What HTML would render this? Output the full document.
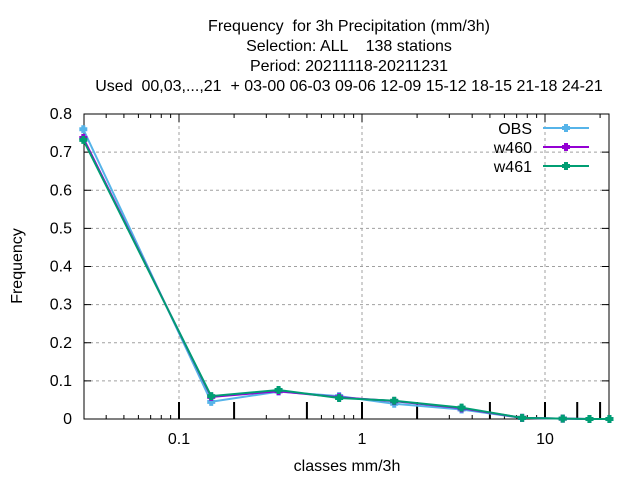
<!DOCTYPE html>
<html><head><meta charset="utf-8"><style>
body{margin:0;background:#fff}
svg{font-family:"Liberation Sans",sans-serif;font-size:16px}
</style></head><body>
<svg id="c" width="640" height="480">
<g text-anchor="middle" fill="#000" xml:space="preserve">
<text x="349" y="31" xml:space="preserve">Frequency  for 3h Precipitation (mm/3h)</text>
<text x="349" y="51" xml:space="preserve">Selection: ALL    138 stations</text>
<text x="349" y="71">Period: 20211118-20211231</text>
<text x="349" y="91" xml:space="preserve">Used  00,03,...,21  + 03-00 06-03 09-06 12-09 15-12 18-15 21-18 24-21</text>
</g>
<text x="22" y="266" text-anchor="middle" transform="rotate(-90 22 266)">Frequency</text>
<text x="347" y="471" text-anchor="middle">classes mm/3h</text>
<g id="grid"></g><g id="axes"></g><g id="series"></g><g id="legend"></g>
</svg>
<script>
const xValues=[0.03,0.15,0.35,0.75,1.5,3.5,7.5,12.5,17.5,22.5];
const obs=[0.76,0.045,0.072,0.06,0.04,0.025,0.003,0.001,0,0];
const w460=[0.737,0.058,0.073,0.057,0.047,0.028,0.003,0.001,0,0];
const w461=[0.732,0.06,0.076,0.055,0.048,0.03,0.003,0.001,0,0];
const seriesNames=["OBS","w460","w461"];
const yTicks=[0,0.1,0.2,0.3,0.4,0.5,0.6,0.7,0.8];
const yTickLabels=["0","0.1","0.2","0.3","0.4","0.5","0.6","0.7","0.8"];
const xMajor=[0.1,1,10];
const xMajorLabels=["0.1","1","10"];
const impulseX=[0.1,0.2,0.5,1,2,5,10,15,20];
const L=84,R=609,T=114,B=419;
const X=v=>179+(Math.log10(v)+1)*183;
const Y=v=>B-(v/0.8)*(B-T);
const NS="http://www.w3.org/2000/svg";
function mk(t,a,p){const e=document.createElementNS(NS,t);for(const k in a)e.setAttribute(k,a[k]);p.appendChild(e);return e;}
const grid=document.getElementById('grid'),axes=document.getElementById('axes'),ser=document.getElementById('series'),leg=document.getElementById('legend');
yTicks.forEach((v,i)=>{const y=Y(v);
 if(i>0&&i<yTicks.length-1){const g=mk('line',{x1:L,x2:R,y1:y,y2:y,stroke:'#a0a0a0','stroke-dasharray':'3,3'},grid);
 
 }
 mk('line',{x1:L,x2:L+7,y1:y,y2:y,stroke:'#000'},axes);mk('line',{x1:R,x2:R-7,y1:y,y2:y,stroke:'#000'},axes);
 const t=mk('text',{x:L-12,y:y+5,'text-anchor':'end'},axes);t.textContent=yTickLabels[i];
 
 });
xMajor.forEach((v,i)=>{const x=X(v);
 const g=mk('line',{x1:x,x2:x,y1:T,y2:B,stroke:'#a0a0a0','stroke-dasharray':'3,3'},grid);
 
 
 const t=mk('text',{x:x,y:B+25,'text-anchor':'middle'},axes);t.textContent=xMajorLabels[i];
 
 });
for(let d=0.01;d<=10;d*=10){for(let m=2;m<=9;m++){const v=d*m;const x=X(v);if(x<=L||x>=R)continue;
 mk('line',{x1:x,x2:x,y1:B,y2:B-4,stroke:'#000'},axes);mk('line',{x1:x,x2:x,y1:T,y2:T+4,stroke:'#000'},axes);}}
xMajor.forEach(v=>{const x=X(v);mk('line',{x1:x,x2:x,y1:T,y2:T+8,stroke:'#000'},axes);});
impulseX.forEach(v=>{const x=X(v);const e=mk('line',{x1:x,x2:x,y1:B,y2:B-17,stroke:'#000','stroke-width':2},axes);
 
 });
const fr=mk('rect',{x:L,y:T,width:R-L,height:B-T,fill:'none',stroke:'#000'},axes);


const data=[obs,w460,w461],cols=['#56b4e9','#9400d3','#009e73'];
function marker(x,y,c,p){mk('path',{d:`M${x-4},${y-2}h2v-2h4v2h2v4h-2v2h-4v-2h-2z`,fill:c},p);}
data.forEach((arr,s)=>{const g=mk('g',{},ser);
 
 
 const pts=arr.map((v,i)=>X(xValues[i]).toFixed(1)+','+Y(v).toFixed(1)).join(' ');
 mk('polyline',{points:pts,fill:'none',stroke:cols[s],'stroke-width':2},g);
 arr.forEach((v,i)=>marker(X(xValues[i]),Y(v),cols[s],g));
 const ly=128+19*s;
 const lg=mk('g',{},leg);
 
 
 const t=mk('text',{x:532,y:ly+6,'text-anchor':'end'},lg);t.textContent=seriesNames[s];
 mk('line',{x1:543,x2:589,y1:ly,y2:ly,stroke:cols[s],'stroke-width':2},lg);marker(566,ly,cols[s],lg);});
</script>
</body></html>
